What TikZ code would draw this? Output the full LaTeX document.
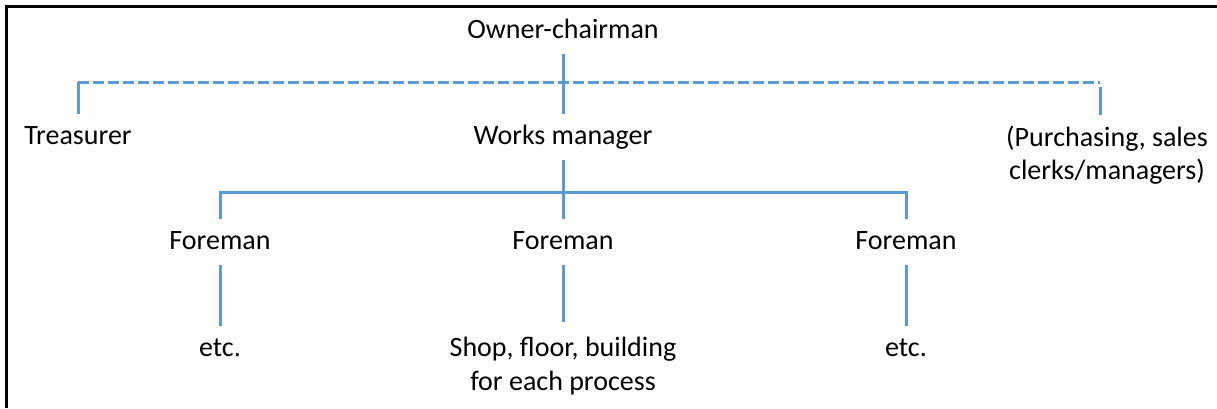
\documentclass[tikz,border=0pt]{standalone}
\usepackage{fontspec}
\setmainfont{Carlito}
\usetikzlibrary{calc}
\definecolor{orgblue}{HTML}{5B9BD5}
\tikzset{
  lbl/.style={font=\fontsize{28pt}{33.6pt}\selectfont, inner xsep=0pt, inner ysep=10pt,
              text height=20pt, text depth=6pt, anchor=center},
  mlbl/.style={font=\fontsize{28pt}{33.6pt}\selectfont, inner xsep=0pt, align=center, anchor=north},
  link/.style={draw=orgblue, line width=3pt},
  dlink/.style={draw=orgblue, line width=3pt, dash pattern=on 11pt off 4pt},
  frame/.style={draw=black, line width=3pt}
}
\begin{document}
\begin{tikzpicture}[x=1pt,y=-1pt]
\useasboundingbox (0,0) rectangle (1217,408);
\draw[frame] (6.5,408) -- (6.5,6) -- (1217,6);

\node[lbl] (owner) at (563,31) {Owner-chairman};
\node[lbl] (trez) at (78,137) {Treasurer};
\node[lbl] (wm) at (563,137) {Works manager};
\node[mlbl, inner ysep=10.5pt] (pur) at (1107,115) {(Purchasing, sales\\clerks/managers)};
\node[lbl] (f1) at (220,242) {Foreman};
\node[lbl] (f2) at (563,242) {Foreman};
\node[lbl] (f3) at (906,242) {Foreman};
\node[lbl] (e1) at (220,349) {etc.};
\node[mlbl, inner ysep=15pt] (shop) at (563,322) {Shop, floor, building\\for each process};
\node[lbl] (e3) at (906,349) {etc.};

\coordinate (jL) at (78,82);
\coordinate (jR) at (1100,82);
\coordinate (hL) at (220,192);
\coordinate (hR) at (906,192);

% staff (dashed) line
\draw[dlink] (jL) -- (jR);
\draw[link] (trez.north) -- (jL);
\draw[link] ($(jR)+(0,5)$) -- (jR |- pur.north);
\draw[link] (owner.south) -- (wm.north);

% works manager to foremen
\draw[link] (wm.south) -- (f2.north);
\draw[link] (f1.north) -- (hL) -- (hR) -- (f3.north);

% foremen to below
\draw[link] (f1.south) -- (e1.north);
\draw[link] (f2.south) -- (shop.north);
\draw[link] (f3.south) -- (e3.north);
\end{tikzpicture}
\end{document}
